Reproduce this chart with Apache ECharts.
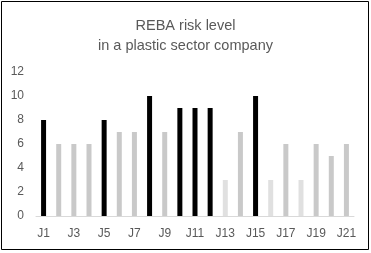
<!DOCTYPE html>
<html>
<head>
<meta charset="utf-8">
<script src="https://cdn.jsdelivr.net/npm/echarts@6/dist/echarts.min.js"></script>
<style>
  html, body { margin: 0; padding: 0; background: #fff; }
  #main { width: 371px; height: 253px; }
</style>
</head>
<body>
<div id="main"></div>
<script>
// REBA scores per job
const jobs = ['J1','J2','J3','J4','J5','J6','J7','J8','J9','J10','J11','J12','J13','J14','J15','J16','J17','J18','J19','J20','J21'];
const rebaScores = [8, 6, 6, 6, 8, 7, 7, 10, 7, 9, 9, 9, 3, 7, 10, 3, 6, 3, 6, 5, 6];
const yTicks = [0, 2, 4, 6, 8, 10, 12];

// risk level colouring
function riskColor(v) {
    if (v >= 8) return '#000000';
    if (v >= 4) return '#c9c9c9';
    return '#e0e0e0';
}

let myChart = echarts.init(document.getElementById('main'));
myChart.setOption({
    animation: false,
    backgroundColor: '#fff',
    title: {
        text: 'REBA risk level\nin a plastic sector company',
        left: 'center',
        top: 11,
        textStyle: {
            fontFamily: 'Liberation Sans',
            fontSize: 14.5,
            fontWeight: 'normal',
            color: '#595959',
            lineHeight: 20
        }
    },
    graphic: [{
        type: 'rect',
        shape: { x: 1.5, y: 1.5, width: 367, height: 248 },
        style: { fill: 'none', stroke: '#000', lineWidth: 1 }
    }],
    grid: { left: 36, right: 17, top: 72, bottom: 37 },
    xAxis: {
        type: 'category',
        data: jobs,
        axisLine: { lineStyle: { color: '#d9d9d9' } },
        axisTick: { show: false },
        axisLabel: {
            interval: 1,
            margin: 12,
            fontFamily: 'Liberation Sans',
            fontSize: 12,
            color: '#595959'
        }
    },
    yAxis: {
        type: 'value',
        min: yTicks[0],
        max: yTicks[yTicks.length - 1],
        interval: 2,
        splitLine: { show: false },
        axisLine: { show: false },
        axisTick: { show: false },
        axisLabel: {
            margin: 12,
            fontFamily: 'Liberation Sans',
            fontSize: 12,
            color: '#595959'
        }
    },
    series: [{
        type: 'bar',
        barWidth: 5,
        data: rebaScores.map(v => ({ value: v, itemStyle: { color: riskColor(v) } }))
    }]
});
</script>
</body>
</html>
